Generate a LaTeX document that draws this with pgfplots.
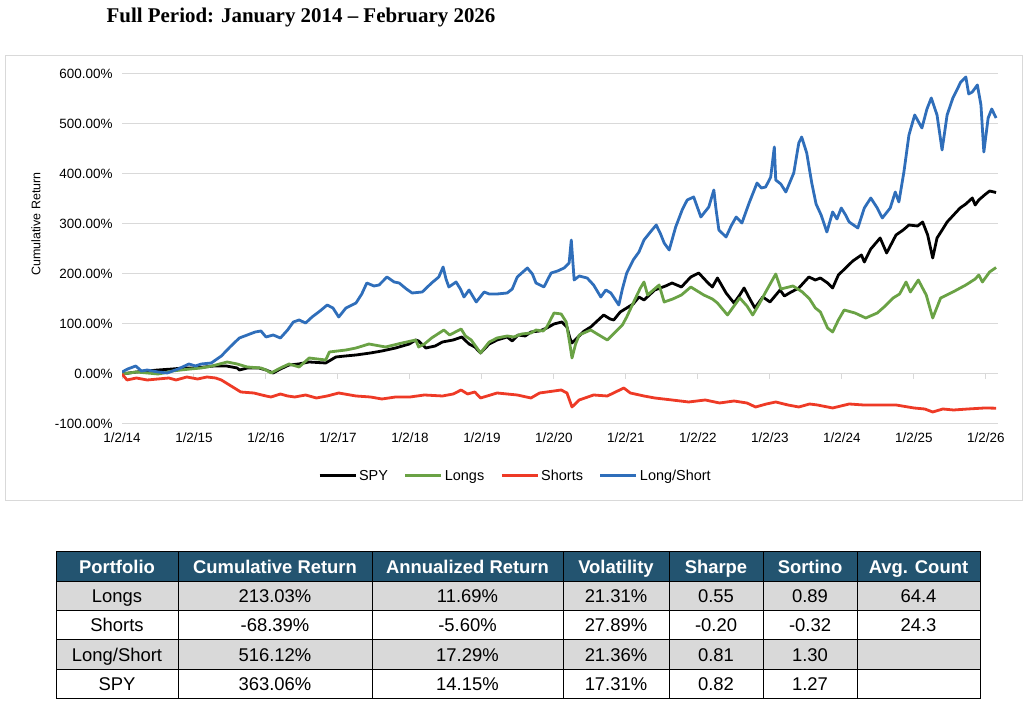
\documentclass[border=0pt]{standalone}
\usepackage{fontspec}
\setmainfont{Liberation Sans}
\newfontfamily\titlefont{Liberation Serif}
\usepackage{pgfplots}
\pgfplotsset{compat=1.18}

\definecolor{longs}{HTML}{6AA245}
\definecolor{shorts}{HTML}{EE3A26}
\definecolor{ls}{HTML}{2F6EBA}
\definecolor{gridc}{HTML}{D9D9D9}
\definecolor{hdr}{HTML}{235470}
\definecolor{rowg}{HTML}{D9D9D9}

% cumulative returns (%), x in years
\pgfplotstableread{
x y
2014.00 0
2014.20 4
2014.35 6
2014.50 8
2014.70 10
2014.85 12
2015.00 12
2015.15 14
2015.28 16
2015.45 16
2015.60 12
2015.63 8
2015.74 12
2015.90 12
2016.00 8
2016.10 2
2016.20 10
2016.32 18
2016.45 20
2016.60 24
2016.83 22
2016.97 34
2017.10 36
2017.25 38
2017.45 42
2017.61 46
2017.80 52
2017.99 60
2018.08 68
2018.12 66
2018.22 52
2018.35 56
2018.45 64
2018.60 68
2018.72 74
2018.82 60
2018.90 54
2018.98 42
2019.10 60
2019.21 68
2019.35 74
2019.42 66
2019.50 78
2019.60 76
2019.68 84
2019.80 86
2019.90 92
2020.00 100
2020.11 104
2020.18 94
2020.22 72
2020.25 62
2020.32 72
2020.42 86
2020.51 94
2020.60 106
2020.69 118
2020.78 110
2020.83 108
2020.92 124
2021.01 132
2021.10 140
2021.18 154
2021.25 148
2021.40 168
2021.55 176
2021.64 182
2021.77 174
2021.90 194
2022.01 202
2022.14 182
2022.20 174
2022.27 192
2022.39 162
2022.50 142
2022.58 158
2022.64 172
2022.72 150
2022.79 132
2022.90 154
2023.00 144
2023.14 168
2023.20 156
2023.27 162
2023.40 172
2023.54 194
2023.63 188
2023.70 192
2023.80 182
2023.87 172
2023.95 198
2024.05 212
2024.15 226
2024.27 238
2024.31 224
2024.40 250
2024.53 272
2024.62 242
2024.75 278
2024.85 288
2024.93 298
2025.05 296
2025.12 304
2025.19 278
2025.26 232
2025.32 272
2025.40 290
2025.46 304
2025.55 318
2025.64 332
2025.72 340
2025.81 352
2025.85 338
2025.90 348
2025.98 358
2026.05 366
2026.14 363
}\spy

\pgfplotstableread{
x y
2014.00 0
2014.10 2
2014.20 4
2014.35 2
2014.50 0
2014.58 2
2014.70 6
2014.82 8
2014.95 10
2015.10 12
2015.25 16
2015.46 24
2015.60 20
2015.74 14
2015.93 12
2016.00 8
2016.07 2
2016.20 12
2016.32 20
2016.46 14
2016.60 32
2016.83 28
2016.88 44
2017.11 48
2017.25 52
2017.43 60
2017.66 54
2017.89 62
2018.08 68
2018.12 54
2018.20 60
2018.30 72
2018.47 88
2018.55 78
2018.71 90
2018.77 76
2018.85 68
2018.98 42
2019.10 64
2019.21 72
2019.35 76
2019.44 74
2019.55 80
2019.68 82
2019.75 88
2019.85 86
2019.90 94
2020.00 122
2020.10 120
2020.17 104
2020.22 60
2020.25 32
2020.30 60
2020.35 78
2020.51 88
2020.60 80
2020.74 68
2020.88 88
2020.95 98
2021.01 114
2021.12 148
2021.20 172
2021.25 184
2021.30 158
2021.46 178
2021.53 144
2021.65 150
2021.77 158
2021.90 174
2022.08 158
2022.20 150
2022.27 142
2022.41 118
2022.50 136
2022.58 152
2022.68 136
2022.76 118
2022.85 140
2022.94 164
2023.08 200
2023.15 170
2023.32 176
2023.45 164
2023.55 150
2023.63 132
2023.70 124
2023.80 92
2023.87 84
2023.95 108
2024.03 128
2024.18 122
2024.33 112
2024.49 122
2024.60 136
2024.71 152
2024.80 160
2024.89 184
2024.95 164
2025.06 188
2025.17 158
2025.26 112
2025.37 152
2025.54 164
2025.72 178
2025.85 190
2025.90 198
2025.95 184
2026.05 204
2026.14 213
}\longs

\pgfplotstableread{
x y
2014.00 0
2014.07 -12
2014.20 -8
2014.35 -12
2014.50 -10
2014.65 -8
2014.75 -12
2014.90 -6
2015.05 -10
2015.18 -6
2015.30 -8
2015.38 -12
2015.47 -20
2015.56 -28
2015.65 -36
2015.83 -38
2016.00 -44
2016.07 -46
2016.20 -40
2016.30 -44
2016.40 -46
2016.55 -42
2016.70 -48
2016.85 -44
2017.01 -38
2017.25 -44
2017.45 -46
2017.61 -50
2017.80 -46
2018.00 -46
2018.20 -42
2018.45 -44
2018.60 -40
2018.71 -32
2018.80 -40
2018.90 -36
2018.98 -48
2019.21 -38
2019.49 -42
2019.68 -48
2019.80 -38
2020.10 -32
2020.18 -38
2020.25 -66
2020.35 -52
2020.55 -42
2020.74 -44
2020.97 -28
2021.06 -38
2021.25 -44
2021.40 -48
2021.64 -52
2021.87 -56
2022.10 -52
2022.30 -58
2022.50 -54
2022.68 -58
2022.80 -66
2022.95 -60
2023.08 -56
2023.25 -62
2023.40 -66
2023.55 -60
2023.66 -62
2023.87 -68
2024.10 -60
2024.30 -62
2024.49 -62
2024.75 -62
2025.00 -68
2025.15 -70
2025.26 -76
2025.40 -70
2025.55 -72
2025.75 -70
2025.98 -68
2026.14 -68.4
}\shorts

\pgfplotstableread{
x y
2014.00 4
2014.08 10
2014.19 16
2014.27 6
2014.35 8
2014.50 4
2014.63 2
2014.78 10
2014.93 20
2015.02 16
2015.10 20
2015.24 22
2015.38 36
2015.50 54
2015.63 72
2015.74 78
2015.85 84
2015.93 86
2016.00 74
2016.10 78
2016.20 72
2016.30 88
2016.38 104
2016.46 108
2016.55 102
2016.64 114
2016.75 126
2016.85 138
2016.93 132
2017.01 114
2017.11 132
2017.25 142
2017.33 160
2017.40 182
2017.50 176
2017.57 178
2017.68 194
2017.78 184
2017.85 182
2017.95 170
2018.03 162
2018.17 164
2018.30 182
2018.40 194
2018.46 214
2018.50 190
2018.54 174
2018.64 184
2018.70 170
2018.75 154
2018.82 168
2018.92 144
2019.03 164
2019.10 160
2019.21 160
2019.35 162
2019.42 170
2019.49 194
2019.63 212
2019.70 200
2019.75 182
2019.86 174
2019.96 202
2020.05 206
2020.14 212
2020.21 222
2020.24 268
2020.28 188
2020.35 196
2020.46 192
2020.55 178
2020.65 154
2020.72 168
2020.79 162
2020.90 138
2020.95 170
2021.01 202
2021.10 228
2021.18 244
2021.25 268
2021.35 286
2021.42 298
2021.48 280
2021.53 262
2021.60 248
2021.69 294
2021.78 328
2021.85 348
2021.94 354
2022.00 330
2022.04 314
2022.15 334
2022.22 368
2022.25 330
2022.29 288
2022.39 274
2022.46 296
2022.53 314
2022.61 302
2022.71 342
2022.82 382
2022.88 372
2022.94 374
2023.01 394
2023.06 454
2023.08 388
2023.15 380
2023.22 364
2023.33 402
2023.40 462
2023.44 474
2023.51 442
2023.58 382
2023.64 340
2023.71 318
2023.79 284
2023.87 324
2023.93 310
2023.99 332
2024.05 318
2024.10 304
2024.22 292
2024.31 332
2024.40 352
2024.49 332
2024.56 312
2024.67 332
2024.74 364
2024.79 344
2024.86 404
2024.93 478
2025.01 518
2025.11 492
2025.18 530
2025.24 552
2025.32 518
2025.39 448
2025.46 518
2025.54 552
2025.65 584
2025.72 594
2025.76 560
2025.81 564
2025.88 578
2025.93 538
2025.97 444
2026.03 512
2026.08 530
2026.14 512
}\longshort

\begin{document}
\begin{tikzpicture}[x=1bp,y=1bp]
\path[use as bounding box] (0,0) rectangle (1030,717);

% title
\node[font=\titlefont\bfseries\fontsize{21}{25}\selectfont] at (301,699) {Full Period: January 2014 – February 2026};

% chart frame
\draw[gridc, line width=1bp] (5.5,216.5) rectangle (1022,661);

\node[rotate=90, font=\fontsize{12.5}{15}\selectfont] at (36,493) {Cumulative Return};

% zero line with year tick marks (drawn first, under the series)
\begin{axis}[
  at={(122bp,293bp)}, anchor=south west,
  scale only axis, width=876bp, height=350bp,
  xmin=2014, xmax=2026.167, ymin=-100, ymax=600,
  axis x line*=middle, axis y line=none,
  hide obscured x ticks=false,
  x axis line style={gridc, line width=1bp},
  xtick style={gridc, line width=1bp},
  tick align=outside, major tick length=5bp,
  xtick={2014,...,2026}, xticklabels={}, ytick=\empty,
]
\end{axis}

\begin{axis}[
  at={(122bp,293bp)}, anchor=south west,
  scale only axis, width=876bp, height=350bp,
  xmin=2014, xmax=2026.167, ymin=-100, ymax=600,
  axis line style={draw=none},
  tick style={draw=none},
  xtick={2014,...,2026},
  xticklabels={1/2/14,1/2/15,1/2/16,1/2/17,1/2/18,1/2/19,1/2/20,1/2/21,1/2/22,1/2/23,1/2/24,1/2/25,1/2/26},
  ytick={-100,0,...,600},
  yticklabel={\pgfmathprintnumber[fixed,fixed zerofill,precision=2]{\tick}\%},
  /pgf/number format/assume math mode=true,
  ticklabel style={font=\fontsize{13.5}{16}\selectfont},
  xticklabel style={yshift=-5bp},
  yticklabel style={xshift=-6bp},
  ymajorgrids, grid style={gridc, line width=1bp},
  legend columns=4,
  legend style={draw=none, fill=none, at={(0.449,-0.148)}, anchor=center,
    font=\fontsize{14.5}{17}\selectfont,
    /tikz/every even column/.append style={column sep=14bp}},
  legend image code/.code={\draw[#1, line width=3bp] (0bp,0bp) -- (36bp,0bp);},
  every axis plot/.append style={line width=2.8bp, line join=round},
]
\addplot[black] table {\spy};
\addlegendentry{SPY}
\addplot[longs] table {\longs};
\addlegendentry{Longs}
\addplot[shorts] table {\shorts};
\addlegendentry{Shorts}
\addplot[ls] table {\longshort};
\addlegendentry{Long/Short}
\end{axis}

% table
\def\fs{\fontsize{18.5}{21}\selectfont}
\fill[hdr] (56,135) rectangle (980,165);
\fill[rowg] (56,106) rectangle (980,135);
\fill[rowg] (56,47) rectangle (980,77);
\foreach \yy in {135,106,77,47} \draw[black, line width=1bp] (56,\yy) -- (980,\yy);
\foreach \xx in {178,372,563,669,763,857} \draw[black, line width=1bp] (\xx,18) -- (\xx,165);
\draw[black, line width=1bp] (56,18) rectangle (980,165);

\foreach \xx/\t in {117/Portfolio,275/Cumulative Return,467.5/Annualized Return,616/Volatility,716/Sharpe,810/Sortino,918.5/Avg. Count}
  \node[white, font=\fs\bfseries, anchor=base] at (\xx,143.5) {\t};

\foreach \yy/\a/\b/\c/\d/\e/\f/\g in {
  120.5/Longs/213.03\%/11.69\%/21.31\%/0.55/0.89/64.4,
  91.5/Shorts/-68.39\%/-5.60\%/27.89\%/-0.20/-0.32/24.3,
  62/Long\slash Short/516.12\%/17.29\%/21.36\%/0.81/1.30/,
  32.5/SPY/363.06\%/14.15\%/17.31\%/0.82/1.27/}{
  \node[font=\fs, anchor=base] at (117,\yy-6.5) {\a};
  \node[font=\fs, anchor=base] at (275,\yy-6.5) {\b};
  \node[font=\fs, anchor=base] at (467.5,\yy-6.5) {\c};
  \node[font=\fs, anchor=base] at (616,\yy-6.5) {\d};
  \node[font=\fs, anchor=base] at (716,\yy-6.5) {\e};
  \node[font=\fs, anchor=base] at (810,\yy-6.5) {\f};
  \node[font=\fs, anchor=base] at (918.5,\yy-6.5) {\g};
}
\end{tikzpicture}
\end{document}
